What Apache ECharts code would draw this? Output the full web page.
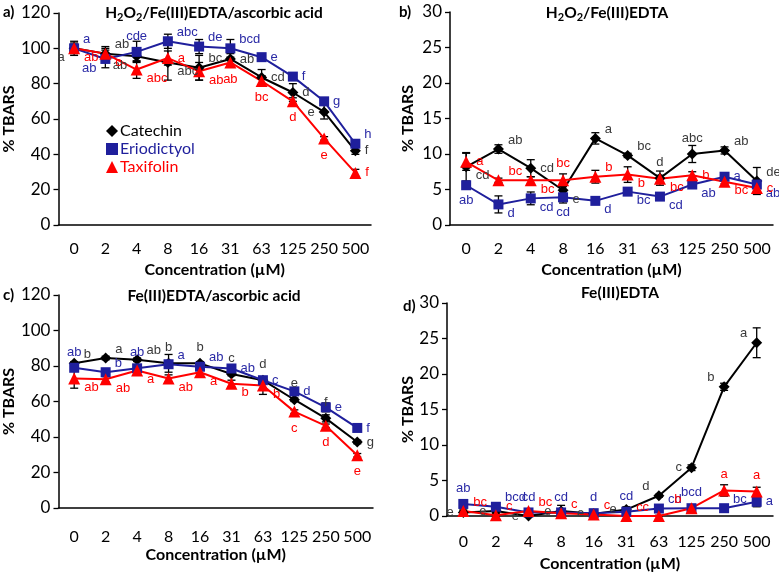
<!DOCTYPE html>
<html>
<head>
<meta charset="utf-8">
<script src="https://cdn.jsdelivr.net/npm/echarts@6/dist/echarts.min.js"></script>
<style>
  html, body { margin: 0; padding: 0; background: #fff; }
  #chart { width: 779px; height: 573px; }
</style>
</head>
<body>
<div id="chart"></div>
<script>
  const categories = ['0', '2', '4', '8', '16', '31', '63', '125', '250', '500'];

  // a) H2O2/Fe(III)EDTA/ascorbic acid
  const aCatechin = [100, 97, 95.5, 92, 89, 94, 83.5, 75, 64, 42];
  const aCatechinSd = [4, 4, 3, 10, 7, 3, 4.5, 5, 4, 2];
  const aCatechinSig = ['a', 'ab', 'ab', 'abc', 'bc', 'ab', 'cd', 'd', 'e', 'f'];
  const aEriodictyol = [100, 94, 98, 104, 101, 100, 95, 84, 70, 46];
  const aEriodictyolSd = [3, 5, 6, 4, 4, 5, 1, 2, 2, 2];
  const aEriodictyolSig = ['a', 'ab', 'cde', 'abc', 'de', 'bcd', 'e', 'f', 'g', 'h'];
  const aTaxifolin = [100, 97, 88, 94.5, 87, 92, 81.5, 70, 49, 29.5];
  const aTaxifolinSd = [2, 3, 5, 4, 5, 2, 3, 2, 1, 2];
  const aTaxifolinSig = ['ab', 'c', 'abc', 'a', 'ab', 'ab', 'bc', 'd', 'e', 'f'];

  // b) H2O2/Fe(III)EDTA
  const bCatechin = [8.2, 10.7, 8.0, 4.9, 12.2, 9.8, 6.6, 10.0, 10.5, 6.2];
  const bCatechinSd = [2, 0.6, 1.2, 0.8, 0.8, 0.3, 1.0, 1.2, 0.5, 1.9];
  const bCatechinSig = ['cd', 'ab', 'cd', 'e', 'a', 'bc', 'd', 'abc', 'ab', 'de'];
  const bEriodictyol = [5.6, 2.9, 3.75, 3.9, 3.4, 4.7, 4.0, 5.7, 6.8, 5.7];
  const bEriodictyolSd = [0.5, 1.2, 0.9, 0.8, 0.5, 0.3, 0.4, 0.3, 0.5, 0.5];
  const bEriodictyolSig = ['ab', 'd', 'cd', 'cd', 'd', 'bc', 'cd', 'ab', 'a', 'ab'];
  const bTaxifolin = [8.9, 6.3, 6.3, 6.3, 6.8, 7.1, 6.5, 7.0, 6.1, 5.2];
  const bTaxifolinSd = [1.2, 0.3, 0.5, 0.9, 0.9, 1.1, 0.5, 0.5, 0.3, 0.5];
  const bTaxifolinSig = ['a', 'bc', 'bc', 'bc', 'b', 'b', 'bc', 'b', 'bc', 'c'];

  // c) Fe(III)EDTA/ascorbic acid
  const cCatechin = [81.5, 84.5, 83.5, 81.5, 81.5, 75.5, 72, 61, 50.5, 37.2];
  const cCatechinSd = [1, 1, 1, 5, 1, 1, 2, 1, 2, 1];
  const cCatechinSig = ['b', 'a', 'ab', 'b', 'b', 'c', 'd', 'e', 'f', 'g'];
  const cEriodictyol = [79, 76.5, 78.7, 81, 79.6, 78.6, 72, 65.7, 56.7, 45.1];
  const cEriodictyolSd = [1, 2, 1.5, 2, 1, 1, 1, 1, 2.5, 1];
  const cEriodictyolSig = ['ab', 'b', 'ab', 'a', 'ab', 'ab', 'c', 'd', 'e', 'f'];
  const cTaxifolin = [73, 72.5, 77.5, 73, 76.5, 70, 69, 54.3, 46.3, 29.7];
  const cTaxifolinSd = [5.5, 1.5, 1, 2, 1, 2, 5, 1, 1, 1];
  const cTaxifolinSig = ['ab', 'ab', 'a', 'ab', 'a', 'b', 'b', 'c', 'd', 'e'];

  // d) Fe(III)EDTA
  const dCatechin = [0.5, 0.7, 0, 0.7, 0.3, 0.9, 2.85, 6.8, 18.2, 24.4];
  const dCatechinSd = [0.3, 0.3, 0.2, 0.8, 0.2, 0.4, 0.2, 0.4, 0.5, 2.1];
  const dCatechinSig = ['e', 'e', 'e', 'e', 'e', 'e', 'd', 'c', 'b', 'a'];
  const dEriodictyol = [1.7, 1.3, 0.5, 0.5, 0.4, 0.6, 1.05, 1.1, 1.1, 2.0];
  const dEriodictyolSd = [0.3, 0.3, 0.2, 0.2, 0.2, 0.2, 0.2, 0.3, 0.2, 0.7];
  const dEriodictyolSig = ['ab', 'bcd', 'cd', 'cd', 'd', 'cd', 'cd', 'bcd', 'bc', 'a'];
  const dTaxifolin = [0.7, 0.1, 0.7, 0.4, 0.2, 0, 0, 1.1, 3.6, 3.45];
  const dTaxifolinSd = [0.3, 0.2, 0.2, 0.2, 0.2, 0.1, 0.1, 0.3, 0.8, 0.6];
  const dTaxifolinSig = ['bc', 'c', 'bc', 'c', 'c', 'c', 'c', 'b', 'a', 'a'];

  // where each significance letter sits around its marker
  const spots = {
    r: { position: 'right', offset: [0, 0] },
    l: { position: 'left', offset: [0, 0] },
    t: { position: 'top', offset: [0, 0] },
    b: { position: 'bottom', offset: [0, 0] },
    tr: { position: 'right', offset: [0, -9] },
    br: { position: 'right', offset: [0, 9] },
    tl: { position: 'left', offset: [0, -9] },
    bl: { position: 'left', offset: [0, 9] }
  };

  const look = {
    Catechin: { color: '#000000', text: '#3a3a3a', symbol: 'diamond', size: 11 },
    Eriodictyol: { color: '#1f1f9c', text: '#2a2aa6', symbol: 'rect', size: 10 },
    Taxifolin: { color: '#ff0000', text: '#ff0000', symbol: 'triangle', size: 12 }
  };

  const grids = [
    { left: 58, top: 13, width: 313, height: 212 },
    { left: 450, top: 12, width: 323, height: 213 },
    { left: 55, top: 295, width: 318, height: 213 },
    { left: 447, top: 303, width: 326, height: 213 }
  ];

  // per panel: tick label margin, x name gap, y name gap
  const gaps = [
    [16, 37, 32],
    [16, 37, 34],
    [21, 39, 30],
    [18, 40, 30]
  ];

  const panels = [
    { max: 120, step: 20, sets: [
      ['Catechin', aCatechin, aCatechinSd, aCatechinSig, 'bl tr bl br tr r r r l r'],
      ['Eriodictyol', aEriodictyol, aEriodictyolSd, aEriodictyolSig, 'tr bl t tr tr tr r r r tr'],
      ['Taxifolin', aTaxifolin, aTaxifolinSd, aTaxifolinSig, 'br br br r br b b b b r']
    ] },
    { max: 30, step: 5, sets: [
      ['Catechin', bCatechin, bCatechinSd, bCatechinSig, 'br tr r br tr tr t t tr tr'],
      ['Eriodictyol', bEriodictyol, bEriodictyolSd, bEriodictyolSig, 'b br br b br br br br r br'],
      ['Taxifolin', bTaxifolin, bTaxifolinSd, bTaxifolinSig, 'r tr br t tr br br r br r']
    ] },
    { max: 120, step: 20, sets: [
      ['Catechin', cCatechin, cCatechinSd, cCatechinSig, 'tr tr tr t t t t t t r'],
      ['Eriodictyol', cEriodictyol, cEriodictyolSd, cEriodictyolSig, 't tr t tr tr r r r r r'],
      ['Taxifolin', cTaxifolin, cTaxifolinSd, cTaxifolinSig, 'br br br br br br br b b b']
    ] },
    { max: 30, step: 5, sets: [
      ['Catechin', dCatechin, dCatechinSd, dCatechinSig, 'l l l l l l tl l tl tl'],
      ['Eriodictyol', dEriodictyol, dEriodictyolSd, dEriodictyolSig, 't tr t t t t tr t tr r'],
      ['Taxifolin', dTaxifolin, dTaxifolinSd, dTaxifolinSig, 'tr tr tr tr tr tr tl tl t t']
    ] }
  ];

  const renderError = (params, api) => {
    const lo = api.coord([api.value(0), api.value(1)]);
    const hi = api.coord([api.value(0), api.value(2)]);
    const cap = 4;
    const style = { stroke: '#000', lineWidth: 1.3 };
    return {
      type: 'group',
      children: [
        { type: 'line', shape: { x1: lo[0], y1: lo[1], x2: hi[0], y2: hi[1] }, style },
        { type: 'line', shape: { x1: lo[0] - cap, y1: lo[1], x2: lo[0] + cap, y2: lo[1] }, style },
        { type: 'line', shape: { x1: hi[0] - cap, y1: hi[1], x2: hi[0] + cap, y2: hi[1] }, style }
      ]
    };
  };

  const xAxes = [];
  const yAxes = [];
  const series = [];

  panels.forEach((p, i) => {
    const [labelMargin, xNameGap, yNameGap] = gaps[i];
    xAxes.push({
      type: 'category',
      gridIndex: i,
      data: categories,
      name: 'Concentration (µM)',
      nameLocation: 'middle',
      nameGap: xNameGap,
      nameTextStyle: { fontFamily: 'Lato', fontWeight: 'bold', fontSize: 16, color: '#000' },
      axisLine: { lineStyle: { color: '#000', width: 1.5 } },
      axisTick: { length: 5, lineStyle: { color: '#000', width: 1.3 } },
      axisLabel: { fontFamily: 'Lato', fontSize: 16, color: '#000', margin: labelMargin, interval: 0 }
    });
    yAxes.push({
      type: 'value',
      gridIndex: i,
      min: 0,
      max: p.max,
      interval: p.step,
      name: '% TBARS',
      nameLocation: 'middle',
      nameGap: yNameGap,
      nameTextStyle: { fontFamily: 'Lato', fontWeight: 'bold', fontSize: 16, color: '#000' },
      axisLine: { show: true, lineStyle: { color: '#000', width: 1.5 } },
      axisTick: { show: true, length: 5, lineStyle: { color: '#000', width: 1.3 } },
      axisLabel: { fontFamily: 'Lato', fontSize: 17, color: '#000', margin: 8 },
      splitLine: { show: false }
    });

    p.sets.forEach(([name, values, sd, sig, where]) => {
      const st = look[name];
      const marks = where.split(' ');
      series.push({
        type: 'custom',
        name: name + ' SD',
        xAxisIndex: i,
        yAxisIndex: i,
        renderItem: renderError,
        silent: true,
        z: 1,
        data: values.map((v, k) => [k, Math.max(0, v - sd[k]), v + sd[k]])
      });
      series.push({
        type: 'line',
        name,
        xAxisIndex: i,
        yAxisIndex: i,
        symbol: st.symbol,
        symbolSize: st.size,
        lineStyle: { color: st.color, width: 2 },
        itemStyle: { color: st.color },
        emphasis: { disabled: true },
        z: 3,
        data: values.map((v, k) => ({
          value: v,
          label: {
            show: true,
            formatter: sig[k],
            position: spots[marks[k]].position,
            offset: spots[marks[k]].offset,
            distance: 4,
            color: st.text,
            fontFamily: 'Liberation Sans',
            fontSize: 13
          }
        }))
      });
    });
  });

  const sub = { fontFamily: 'Lato', fontWeight: 'bold', fontSize: 11, padding: [8, 0, 0, 0] };
  const titleFont = 'bold 15.5px Lato';
  const tagFont = 'bold 15px Lato';

  const chart = echarts.init(document.getElementById('chart'));
  chart.setOption({
    animation: false,
    backgroundColor: '#fff',
    grid: grids,
    xAxis: xAxes,
    yAxis: yAxes,
    legend: {
      left: 101,
      top: 118,
      orient: 'vertical',
      itemGap: 2,
      itemWidth: 12,
      itemHeight: 12,
      selectedMode: false,
      textStyle: { fontFamily: 'Lato', fontSize: 16, padding: [0, 0, 0, -3] },
      data: [
        { name: 'Catechin', icon: 'diamond', textStyle: { color: '#000' } },
        { name: 'Eriodictyol', icon: 'rect', textStyle: { color: '#1f1f9c' } },
        { name: 'Taxifolin', icon: 'triangle', textStyle: { color: '#ff0000' } }
      ]
    },
    graphic: [
      { type: 'text', x: 214, y: 13, style: { text: 'H{s|2}O{s|2}/Fe(III)EDTA/ascorbic acid', font: titleFont, align: 'center', verticalAlign: 'middle', fill: '#000', rich: { s: sub } } },
      { type: 'text', x: 607, y: 13, style: { text: 'H{s|2}O{s|2}/Fe(III)EDTA', font: titleFont, align: 'center', verticalAlign: 'middle', fill: '#000', rich: { s: sub } } },
      { type: 'text', x: 214, y: 296, style: { text: 'Fe(III)EDTA/ascorbic acid', font: titleFont, align: 'center', verticalAlign: 'middle', fill: '#000' } },
      { type: 'text', x: 620, y: 293, style: { text: 'Fe(III)EDTA', font: titleFont, align: 'center', verticalAlign: 'middle', fill: '#000' } },
      { type: 'text', x: 3, y: 12, style: { text: 'a)', font: tagFont, verticalAlign: 'middle', fill: '#000' } },
      { type: 'text', x: 399, y: 12, style: { text: 'b)', font: tagFont, verticalAlign: 'middle', fill: '#000' } },
      { type: 'text', x: 3, y: 295, style: { text: 'c)', font: tagFont, verticalAlign: 'middle', fill: '#000' } },
      { type: 'text', x: 403, y: 306, style: { text: 'd)', font: tagFont, verticalAlign: 'middle', fill: '#000' } }
    ],
    series
  });
</script>
</body>
</html>
